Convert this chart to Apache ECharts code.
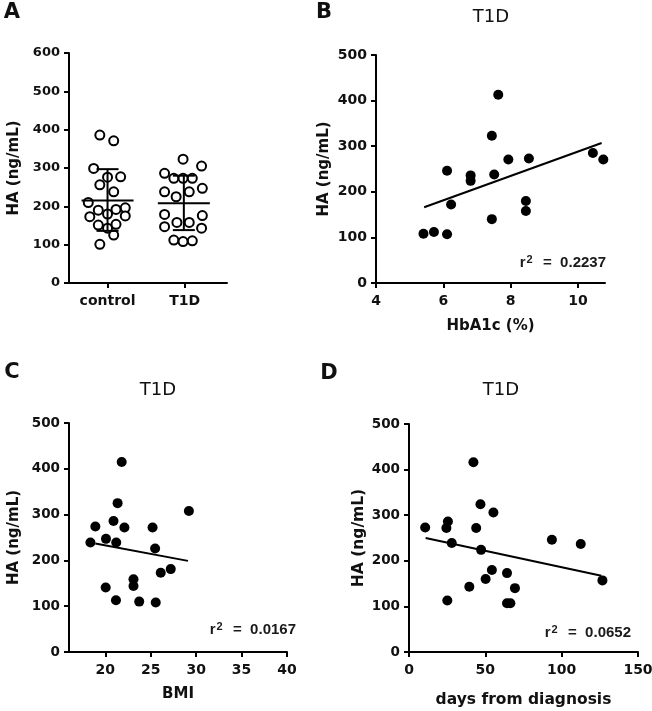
<!DOCTYPE html>
<html><head><meta charset="utf-8">
<script src="https://cdn.jsdelivr.net/npm/echarts@6/dist/echarts.min.js"></script>
<style>html,body{margin:0;padding:0;background:#fff}#c{width:652px;height:711px}</style>
</head><body><div id="c"></div>
<script>
// ---- Panel A: column scatter ----
const groupNames = ['control', 'T1D'];
const controlJitter = [0.90, 1.08, 0.82, 1.00, 1.17, 0.90, 1.08, 0.75, 0.88, 1.00, 1.11, 1.23, 0.77, 1.23, 0.88, 1.00, 1.11, 1.08, 0.90];
const controlHA = [386, 371, 299, 276, 277, 256, 238, 210, 190, 180, 192, 196, 173, 175, 151, 143, 153, 125, 101];
const t1dJitter = [1.98, 2.22, 1.74, 1.86, 1.98, 2.10, 1.74, 1.89, 2.06, 2.23, 1.74, 1.90, 2.06, 2.23, 1.74, 2.22, 1.86, 1.98, 2.10];
const t1dHA = [323, 305, 286, 273, 273, 273, 238, 225, 238, 247, 179, 158, 158, 176, 147, 143, 112, 108, 110];
const groupX = [1.0, 1.99];
const groupMean = [215, 208];
const groupSdLow = [136, 138];
const groupSdHigh = [297, 280];
// ---- Panel B: HbA1c ----
const hba1c = [5.41, 5.72, 6.11, 6.11, 6.23, 6.81, 6.81, 7.44, 7.44, 7.51, 7.63, 7.93, 8.54, 8.45, 8.45, 10.44, 10.75];
const haB = [108, 112, 107, 246, 172, 236, 224, 323, 140, 238, 413, 271, 273, 180, 158, 285, 271];
const fitBX = [5.43, 10.7];
const fitBY = [166, 307];
// ---- Panel C: BMI ----
const bmi = [18.36, 18.9, 20.07, 20.04, 20.9, 21.2, 21.35, 21.17, 21.8, 22.1, 23.1, 23.1, 23.73, 25.2, 25.48, 25.55, 26.1, 27.2, 29.2];
const haC = [239, 274, 247, 141, 286, 239, 325, 113, 415, 272, 159, 144, 110, 272, 226, 108, 173, 181, 308];
const fitCX = [18.9, 29.1];
const fitCY = [237, 199];
// ---- Panel D: days from diagnosis ----
const days = [10.6, 25.5, 24.5, 28.0, 25.1, 39.5, 42.2, 44.0, 46.8, 47.2, 50.2, 54.3, 55.3, 64.2, 64.2, 66.4, 69.4, 93.6, 112.5, 126.7];
const haD = [273, 286, 272, 239, 113, 143, 416, 272, 324, 224, 160, 180, 306, 173, 107, 107, 140, 246, 237, 157];
const fitDX = [10.9, 126];
const fitDY = [250, 167];
const r2Values = ['0.2237', '0.0167', '0.0652'];

const pair = (xs, ys) => xs.map((x, i) => [x, ys[i]]);
const FONT = 'DejaVu Sans';
const axisLine = { lineStyle: { color: '#000', width: 2 } };
const axisTick = { length: 5, lineStyle: { color: '#000', width: 2 } };
const lbl = (size) => ({ color: '#111', fontFamily: FONT, fontWeight: 'bold', fontSize: size, margin: 9 });
const nameStyle = (size) => ({ color: '#111', fontFamily: FONT, fontWeight: 'bold', fontSize: size });

function yAx(grid, max, gap, lsize, nsize) {
  return {
    type: 'value', gridIndex: grid, min: 0, max: max, interval: 100,
    axisLine: Object.assign({ show: true }, axisLine), axisTick: Object.assign({ show: true }, axisTick),
    axisLabel: lbl(lsize), splitLine: { show: false },
    name: 'HA (ng/mL)', nameLocation: 'middle', nameRotate: 90, nameGap: gap, nameTextStyle: nameStyle(nsize)
  };
}
function xAx(grid, o) {
  return Object.assign({
    type: 'value', gridIndex: grid,
    axisLine: Object.assign({ onZero: false }, axisLine), axisTick: axisTick,
    splitLine: { show: false }, nameLocation: 'middle'
  }, o);
}
const scatterStyle = { color: '#000', opacity: 1 };
const r2Rich = {
  r: { font: 'bold 15px "Liberation Sans"', fill: '#1a1a1a' },
  s: { font: 'bold 11px "Liberation Sans"', fill: '#1a1a1a', verticalAlign: 'top', padding: [0, 2, 7, 1] }
};
const r2Text = (v) => '{r|r}{s|2}{r|  =  ' + v + '}';

const chart = echarts.init(document.getElementById('c'), null, { renderer: 'canvas' });
chart.setOption({
  animation: false,
  backgroundColor: '#fff',
  grid: [
    { left: 69, top: 53, width: 158, height: 230, containLabel: false, outerBoundsMode: 'none' },
    { left: 376, top: 55, width: 229, height: 228, containLabel: false, outerBoundsMode: 'none' },
    { left: 69, top: 423, width: 218, height: 229, containLabel: false, outerBoundsMode: 'none' },
    { left: 409, top: 424, width: 229, height: 228, containLabel: false, outerBoundsMode: 'none' }
  ],
  xAxis: [
    xAx(0, { min: 0.5, max: 2.55,
      axisTick: Object.assign({ customValues: [1, 2] }, axisTick),
      axisLabel: Object.assign({ customValues: [1, 2], formatter: v => groupNames[Math.round(v) - 1] }, lbl(14), { margin: 11 }) }),
    xAx(1, { min: 4, max: 10.8,
      axisTick: Object.assign({ customValues: [4, 6, 8, 10] }, axisTick),
      axisLabel: Object.assign({ customValues: [4, 6, 8, 10] }, lbl(14), { margin: 11 }),
      name: 'HbA1c (%)', nameGap: 36, nameTextStyle: nameStyle(15) }),
    xAx(2, { min: 16, max: 40,
      axisTick: Object.assign({ customValues: [20, 25, 30, 35, 40] }, axisTick),
      axisLabel: Object.assign({ customValues: [20, 25, 30, 35, 40] }, lbl(14), { margin: 11 }),
      name: 'BMI', nameGap: 35, nameTextStyle: nameStyle(15) }),
    xAx(3, { min: 0, max: 150, interval: 50,
      axisLabel: Object.assign({}, lbl(14), { margin: 11 }),
      name: 'days from diagnosis', nameGap: 40, nameTextStyle: nameStyle(15.5) })
  ],
  yAxis: [
    yAx(0, 600, 47, 13, 15),
    yAx(1, 500, 44, 14, 15),
    yAx(2, 500, 47, 13.5, 15),
    yAx(3, 500, 42, 13.5, 15.5)
  ],
  graphic: [
    { type: 'text', x: 12, y: 13, style: { text: 'A', font: 'bold 21px "DejaVu Sans"', fill: '#111', align: 'center', verticalAlign: 'middle' } },
    { type: 'text', x: 324, y: 13, style: { text: 'B', font: 'bold 21px "DejaVu Sans"', fill: '#111', align: 'center', verticalAlign: 'middle' } },
    { type: 'text', x: 12, y: 373, style: { text: 'C', font: 'bold 21px "DejaVu Sans"', fill: '#111', align: 'center', verticalAlign: 'middle' } },
    { type: 'text', x: 329, y: 374, style: { text: 'D', font: 'bold 21px "DejaVu Sans"', fill: '#111', align: 'center', verticalAlign: 'middle' } },
    { type: 'text', x: 491, y: 17, style: { text: 'T1D', font: '18px "DejaVu Sans"', fill: '#111', align: 'center', verticalAlign: 'middle' } },
    { type: 'text', x: 158, y: 390, style: { text: 'T1D', font: '18px "DejaVu Sans"', fill: '#111', align: 'center', verticalAlign: 'middle' } },
    { type: 'text', x: 501, y: 390, style: { text: 'T1D', font: '18px "DejaVu Sans"', fill: '#111', align: 'center', verticalAlign: 'middle' } },
    { type: 'text', x: 606, y: 263, style: { text: r2Text(r2Values[0]), align: 'right', verticalAlign: 'middle', rich: r2Rich } },
    { type: 'text', x: 296, y: 630, style: { text: r2Text(r2Values[1]), align: 'right', verticalAlign: 'middle', rich: r2Rich } },
    { type: 'text', x: 631, y: 633, style: { text: r2Text(r2Values[2]), align: 'right', verticalAlign: 'middle', rich: r2Rich } }
  ],
  series: [
    { type: 'scatter', xAxisIndex: 0, yAxisIndex: 0, data: pair(controlJitter, controlHA), symbolSize: 9,
      itemStyle: { color: '#fff', borderColor: '#000', borderWidth: 2, opacity: 1 }, z: 2 },
    { type: 'scatter', xAxisIndex: 0, yAxisIndex: 0, data: pair(t1dJitter, t1dHA), symbolSize: 9,
      itemStyle: { color: '#fff', borderColor: '#000', borderWidth: 2, opacity: 1 }, z: 2 },
    { type: 'custom', xAxisIndex: 0, yAxisIndex: 0, z: 3,
      data: groupX.map((x, i) => [x, groupMean[i], groupSdLow[i], groupSdHigh[i]]),
      encode: { x: 0, y: [1, 2, 3] },
      renderItem: (params, api) => {
        const x = api.value(0);
        const m = api.coord([x, api.value(1)]);
        const lo = api.coord([x, api.value(2)]);
        const hi = api.coord([x, api.value(3)]);
        const st = { stroke: '#000', lineWidth: 2 };
        return { type: 'group', children: [
          { type: 'line', shape: { x1: m[0] - 26, y1: m[1], x2: m[0] + 26, y2: m[1] }, style: st },
          { type: 'line', shape: { x1: lo[0], y1: lo[1], x2: hi[0], y2: hi[1] }, style: st },
          { type: 'line', shape: { x1: hi[0] - 11, y1: hi[1], x2: hi[0] + 11, y2: hi[1] }, style: st },
          { type: 'line', shape: { x1: lo[0] - 11, y1: lo[1], x2: lo[0] + 11, y2: lo[1] }, style: st }
        ] };
      } },
    { type: 'scatter', xAxisIndex: 1, yAxisIndex: 1, data: pair(hba1c, haB), symbolSize: 10, itemStyle: scatterStyle },
    { type: 'line', xAxisIndex: 1, yAxisIndex: 1, data: pair(fitBX, fitBY), showSymbol: false, symbol: 'none', lineStyle: { color: '#000', width: 2 } },
    { type: 'scatter', xAxisIndex: 2, yAxisIndex: 2, data: pair(bmi, haC), symbolSize: 10, itemStyle: scatterStyle },
    { type: 'line', xAxisIndex: 2, yAxisIndex: 2, data: pair(fitCX, fitCY), showSymbol: false, symbol: 'none', lineStyle: { color: '#000', width: 2 } },
    { type: 'scatter', xAxisIndex: 3, yAxisIndex: 3, data: pair(days, haD), symbolSize: 10, itemStyle: scatterStyle },
    { type: 'line', xAxisIndex: 3, yAxisIndex: 3, data: pair(fitDX, fitDY), showSymbol: false, symbol: 'none', lineStyle: { color: '#000', width: 2 } }
  ]
});
</script></body></html>
